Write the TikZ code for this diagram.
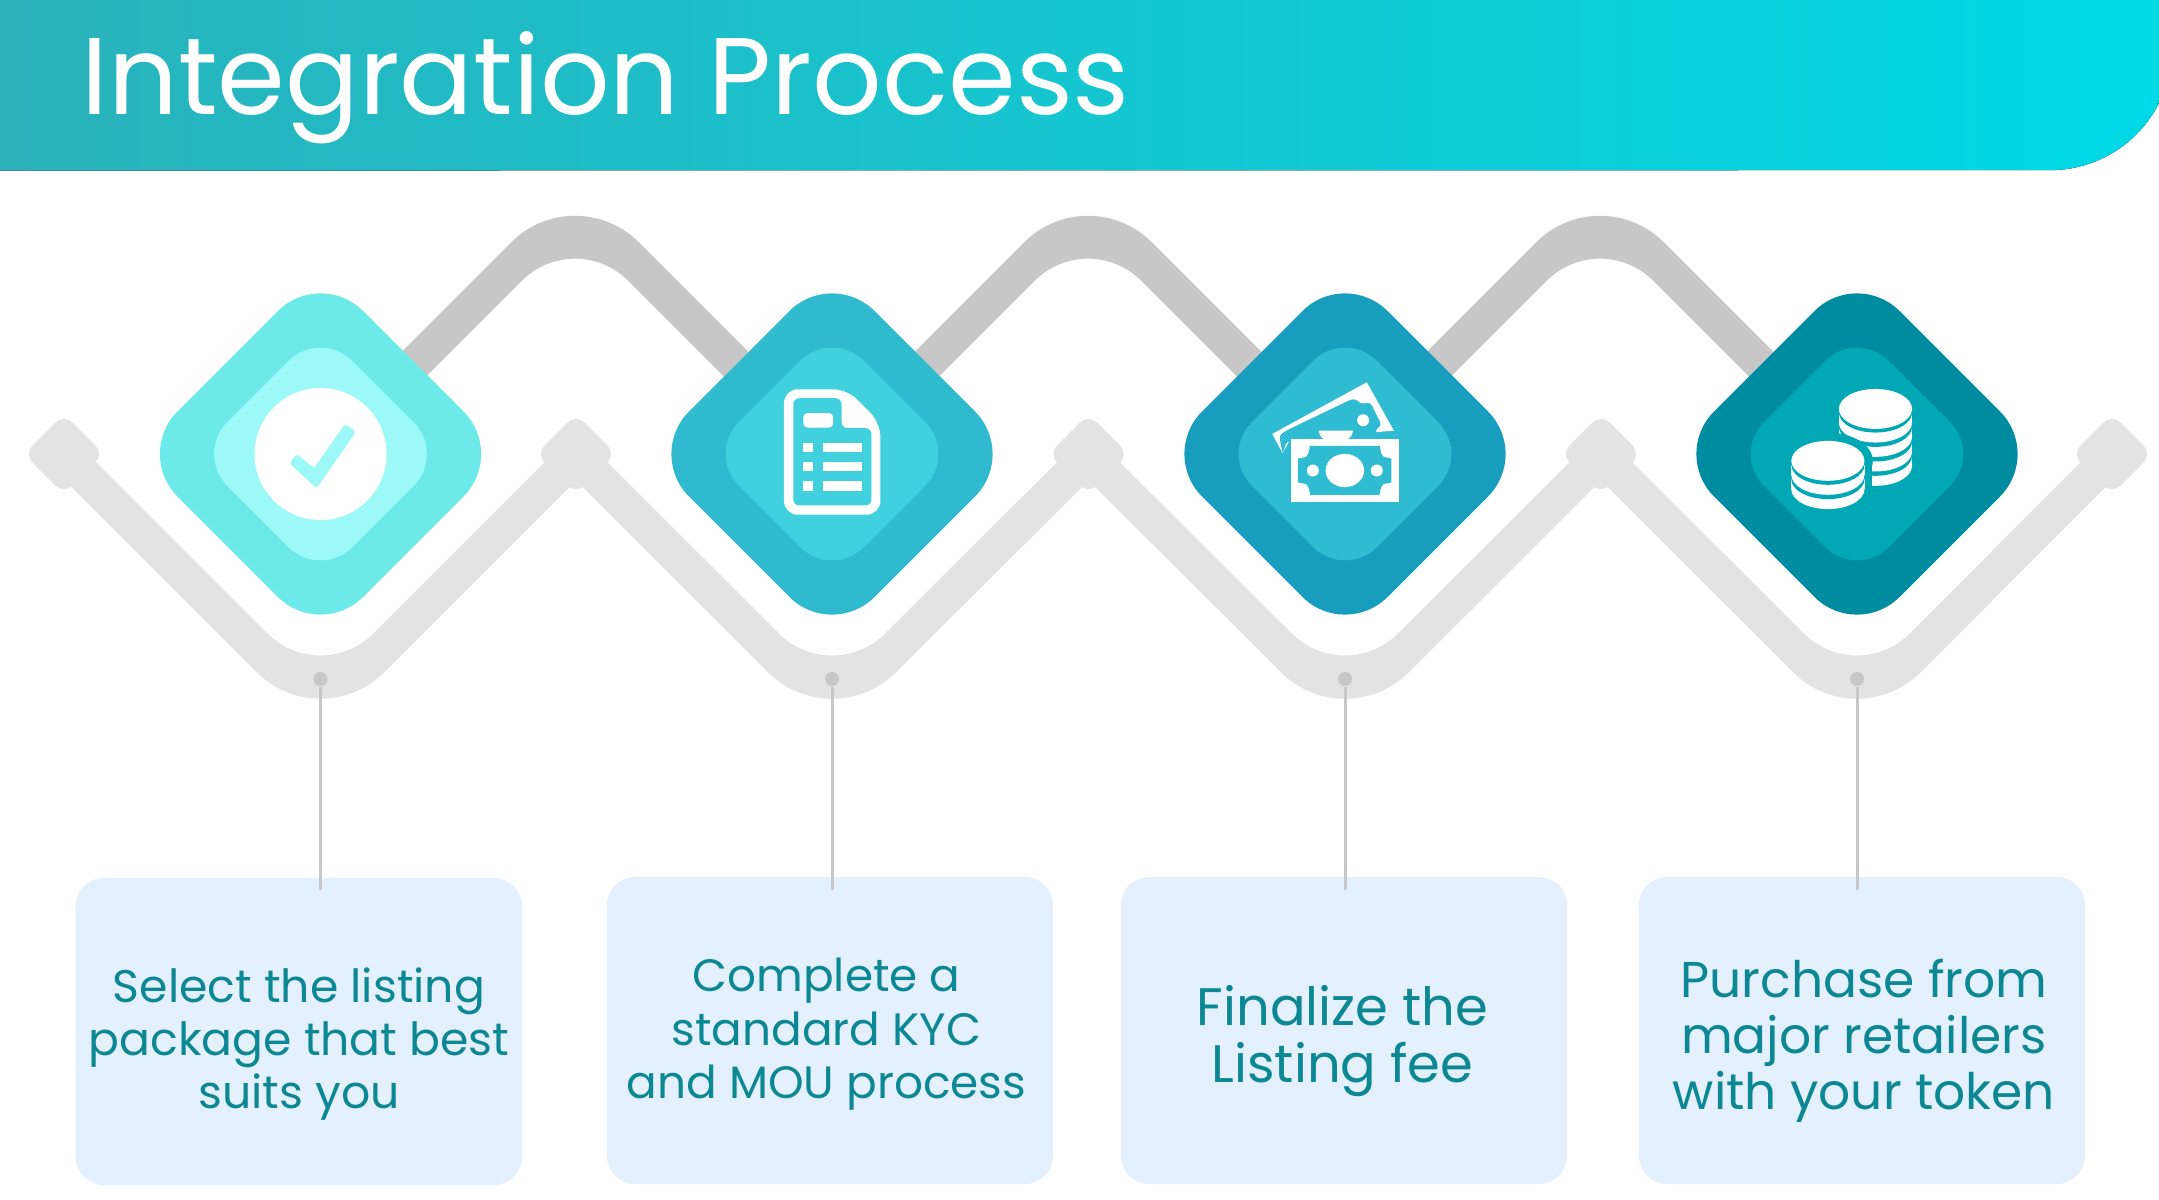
\documentclass[tikz,border=0pt]{standalone}
\usepackage{fontspec}
\setmainfont{Poppins}
\usepackage{tikz}
\definecolor{headleft}{HTML}{2AB2BB}
\definecolor{headright}{HTML}{00D9E6}
\definecolor{procbox}{HTML}{E4F0FE}
\definecolor{proctext}{HTML}{0B8894}
\definecolor{checkouter}{HTML}{6CEAEA}
\definecolor{checkinner}{HTML}{9CF9F8}
\definecolor{docouter}{HTML}{30BACF}
\definecolor{docinner}{HTML}{40D0DE}
\definecolor{cashouter}{HTML}{179EBF}
\definecolor{cashinner}{HTML}{2FBCD3}
\definecolor{coinouter}{HTML}{008CA0}
\definecolor{coininner}{HTML}{00A8B5}

\begin{document}
\begin{tikzpicture}[
    x=0.01cm, y=-0.01cm,
    bandup/.style={fill=black!22},
    bandlow/.style={fill=black!11},
    capbody/.style={fill=black!11, rounded corners=0.12cm},
    bigdiam/.style={rounded corners=0.6cm},
    smalldiam/.style={rounded corners=0.45cm},
    procpin/.style={circle, fill=black!22, inner sep=0pt, minimum size=0.14cm},
    procwire/.style={draw=black!22, line width=0.03cm},
    procbox/.style={fill=procbox, rounded corners=0.28cm},
    proclabel/.style={text=proctext, align=center, inner sep=0pt},
    iconframe/.style={x=0.003333cm, y=-0.003333cm}
]
  \useasboundingbox (0,0) rectangle (2159,1200);
  % header
  \fill[left color=headleft, right color=headright] (0,0) -- (2159,0) -- (2159,103) arc[start angle=26.7,end angle=90,radius=122] -- (0,170.6) -- cycle;
  \node[anchor=base west, text=white, font=\fontsize{31}{37}\selectfont, inner sep=0pt] (title) at (81,114) {Integration Process};
  % upper zigzag
  \fill[bandup] (395,358.5) [rounded corners=0.9cm] -- (575,178.5) [sharp corners] -- (755,358.5) -- (735,387.6) [rounded corners=0.75cm] -- (575,227.6) [sharp corners] -- (415,387.6) -- cycle;
  \fill[bandup] (908,358.5) [rounded corners=0.9cm] -- (1088,178.5) [sharp corners] -- (1268,358.5) -- (1248,387.6) [rounded corners=0.75cm] -- (1088,227.6) [sharp corners] -- (928,387.6) -- cycle;
  \fill[bandup] (1420,358.5) [rounded corners=0.9cm] -- (1600,178.5) [sharp corners] -- (1780,358.5) -- (1760,387.6) [rounded corners=0.75cm] -- (1600,227.6) [sharp corners] -- (1440,387.6) -- cycle;
  % lower zigzag
  \fill[bandlow] (64,430) [rounded corners=0.75cm] -- (320.5,686.5) [sharp corners] -- (576,431) [rounded corners=0.75cm] -- (832,686.5) [sharp corners] -- (1088.5,431) [rounded corners=0.75cm] -- (1345,686.5) [sharp corners] -- (1601,431) [rounded corners=0.75cm] -- (1857,686.5) [sharp corners] -- (2112,431) -- (2112,480.5) [rounded corners=0.9cm] -- (1857,736) [sharp corners] -- (1601,480.5) [rounded corners=0.9cm] -- (1345,736) [sharp corners] -- (1088.5,480.5) [rounded corners=0.9cm] -- (832,736) [sharp corners] -- (576,480.5) [rounded corners=0.9cm] -- (320.5,736) [sharp corners] -- (64,479.5) -- cycle;
  \fill[capbody] (64,414) -- (104,454) -- (64,494) -- (24,454) -- cycle;
  \fill[capbody] (576,414) -- (616,454) -- (576,494) -- (536,454) -- cycle;
  \fill[capbody] (1088.5,414) -- (1128.5,454) -- (1088.5,494) -- (1048.5,454) -- cycle;
  \fill[capbody] (1601,414) -- (1641,454) -- (1601,494) -- (1561,454) -- cycle;
  \fill[capbody] (2112,414) -- (2152,454) -- (2112,494) -- (2072,454) -- cycle;
  % step boxes
  \node[procpin] (pina) at (320.5,679) {};
  \node[procpin] (pinb) at (832,679) {};
  \node[procpin] (pinc) at (1345,679) {};
  \node[procpin] (pind) at (1857,679) {};
  \fill[procbox] (75.7,878) rectangle (522,1185);
  \fill[procbox] (607,877) rectangle (1053,1184);
  \fill[procbox] (1121,877) rectangle (1567,1184);
  \fill[procbox] (1639,877) rectangle (2085,1184);
  \coordinate (taila) at (320.5,890);
  \coordinate (tailb) at (832,890);
  \coordinate (tailc) at (1345,890);
  \coordinate (taild) at (1857,890);
  \draw[procwire] (pina) -- (taila);
  \draw[procwire] (pinb) -- (tailb);
  \draw[procwire] (pinc) -- (tailc);
  \draw[procwire] (pind) -- (taild);
  \node[proclabel, font=\fontsize{13}{15.1}\selectfont] (texta) at (299,1044) {Select the listing\\package that best\\suits you};
  \node[proclabel, font=\fontsize{12.9}{15.2}\selectfont] (textb) at (826.5,1034.5) {Complete a\\standard KYC\\and MOU process};
  \node[proclabel, font=\fontsize{15}{16.2}\selectfont] (textc) at (1342.5,1041) {Finalize the\\Listing fee};
  \node[proclabel, font=\fontsize{14.3}{15.9}\selectfont] (textd) at (1864,1041) {Purchase from\\major retailers\\with your token};
  % check step
  \fill[checkouter, bigdiam] (320.5,268.5) -- (506,454) -- (320.5,639.5) -- (135,454) -- cycle;
  \fill[checkinner, smalldiam] (320.5,329) -- (445.5,454) -- (320.5,579) -- (195.5,454) -- cycle;
  \draw[white, fill=white] (320.5,454) circle [radius=65.3];
  \fill[checkinner, rounded corners=0.03cm] (296.7,454) -- (314,468.3) -- (345,424) -- (356,431.7) -- (316.7,488.3) -- (289.3,463.3) -- cycle;
  % document step
  \fill[docouter, bigdiam] (832,268.5) -- (1017.5,454) -- (832,639.5) -- (646.5,454) -- cycle;
  \fill[docinner, smalldiam] (832,329) -- (957,454) -- (832,579) -- (707,454) -- cycle;
  \begin{scope}[shift={(760,340)}, iconframe]
    \fill[white, rounded corners=0.14cm] (72,148) -- (262,148) -- (362,250) -- (362,525) -- (72,525) -- cycle;
    \fill[docinner, rounded corners=0.06cm] (100,175) -- (245,175) -- (245,265) -- (335,265) -- (335,497) -- (100,497) -- cycle;
    \fill[white, rounded corners=0.04cm] (130,263) -- (130,220) -- (220,220) -- (220,263) -- cycle;
    \fill[white] (130,308) rectangle (160,336);
    \fill[white] (130,366) rectangle (160,395);
    \fill[white] (130,425) rectangle (160,454);
    \fill[white] (190,308) rectangle (305,336);
    \fill[white] (190,366) rectangle (305,395);
    \fill[white] (190,425) rectangle (305,454);
  \end{scope}
  % cash step
  \fill[cashouter, bigdiam] (1345,268.5) -- (1530.5,454) -- (1345,639.5) -- (1159.5,454) -- cycle;
  \fill[cashinner, smalldiam] (1345,329) -- (1470,454) -- (1345,579) -- (1220,454) -- cycle;
  \begin{scope}[shift={(1240,360)}, iconframe]
    \fill[white] (97,222) -- (381,67) -- (462,212) -- (150,240) -- (128,280) -- cycle;
    \fill[cashinner, rounded corners=0.03cm] (128,282) -- (118,228) -- (135,214) -- (335,118) -- (350,118) -- (362,132) -- (392,128) -- (425,195) -- (408,212) -- (408,245) -- (140,245) -- cycle;
    \fill[white] (236,212) arc[start angle=180,end angle=360,x radius=52,y radius=-35] -- cycle;
    \fill[white] (370,181) circle [radius=18];
    \fill[white] (462,212) -- (408,212) -- (425,195) -- (436,170) -- cycle;
    \fill[white] (152,236) rectangle (478,428);
    \fill[cashinner] (210,258) -- (420,258) to[out=90,in=180] (435,292) -- (455,296) -- (455,368) -- (435,372) to[out=180,in=-90] (418,405) -- (212,405) to[out=-90,in=0] (195,372) -- (175,368) -- (175,296) -- (195,292) to[out=0,in=90] (210,258) -- cycle;
    \fill[white] (315,332) ellipse [x radius=58, y radius=50];
    \fill[white] (219,332) circle [radius=18];
    \fill[white] (411,332) circle [radius=18];
  \end{scope}
  % coin step
  \fill[coinouter, bigdiam] (1857,268.5) -- (2042.5,454) -- (1857,639.5) -- (1671.5,454) -- cycle;
  \fill[coininner, smalldiam] (1857,329) -- (1982,454) -- (1857,579) -- (1732,454) -- cycle;
  \begin{scope}[shift={(1760,360)}, iconframe]
    % right stack, lowest coin first
    \fill[white] (237,288) rectangle (457,318);
    \fill[white] (347,318) ellipse [x radius=110, y radius=60];
    \fill[coininner] (347,288) ellipse [x radius=110, y radius=60];
    \fill[white] (237,245) rectangle (457,275);
    \fill[white] (347,275) ellipse [x radius=110, y radius=60];
    \fill[coininner] (347,245) ellipse [x radius=110, y radius=60];
    \fill[white] (237,201) rectangle (457,231);
    \fill[white] (347,231) ellipse [x radius=110, y radius=60];
    \fill[coininner] (347,201) ellipse [x radius=110, y radius=60];
    \fill[white] (237,158) rectangle (457,188);
    \fill[white] (347,188) ellipse [x radius=110, y radius=60];
    \fill[coininner] (347,158) ellipse [x radius=110, y radius=60];
    \fill[white] (347,147) ellipse [x radius=110, y radius=60];
    \fill[coininner] (204,303) ellipse [x radius=135, y radius=85];
    \fill[coininner] (300,303) rectangle (336,470);
    % left stack
    \fill[white] (94,358) rectangle (314,388);
    \fill[white] (204,388) ellipse [x radius=110, y radius=60];
    \fill[coininner] (204,358) ellipse [x radius=110, y radius=60];
    \fill[white] (94,315) rectangle (314,345);
    \fill[white] (204,345) ellipse [x radius=110, y radius=60];
    \fill[coininner] (204,315) ellipse [x radius=110, y radius=60];
    \fill[white] (204,303) ellipse [x radius=110, y radius=60];
  \end{scope}
\end{tikzpicture}
\end{document}
